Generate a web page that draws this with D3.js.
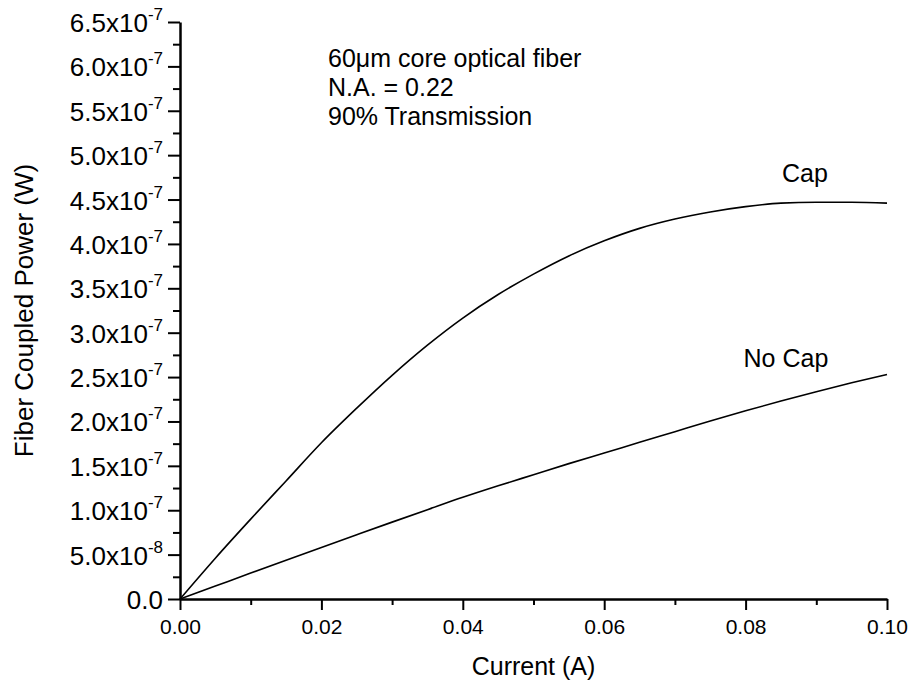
<!DOCTYPE html>
<html>
<head>
<meta charset="utf-8">
<script src="https://cdn.jsdelivr.net/npm/d3@7"></script>
<style>
  html, body { margin: 0; padding: 0; background: #fff; }
  svg { display: block; }
  text { font-family: "Liberation Sans", Arial, Helvetica, sans-serif; fill: #000; }
</style>
</head>
<body>
<svg id="chart" width="909" height="681"></svg>
<script>
// Drive current (A)
const current = [0, 0.005, 0.01, 0.015, 0.02, 0.025, 0.03, 0.035, 0.04, 0.045, 0.05,
                 0.055, 0.06, 0.065, 0.07, 0.075, 0.08, 0.085, 0.09, 0.095, 0.1];
// Fiber coupled power with cap (W)
const capPower = [0, 0.46e-7, 0.90e-7, 1.33e-7, 1.76e-7, 2.15e-7, 2.52e-7, 2.86e-7, 3.165e-7, 3.43e-7, 3.66e-7,
                  3.865e-7, 4.035e-7, 4.175e-7, 4.28e-7, 4.36e-7, 4.42e-7, 4.46e-7, 4.47e-7, 4.47e-7, 4.46e-7];
// Fiber coupled power without cap (W)
const noCapPower = [0, 0.146e-7, 0.292e-7, 0.437e-7, 0.581e-7, 0.724e-7, 0.866e-7, 1.006e-7, 1.145e-7, 1.275e-7, 1.40e-7,
                    1.525e-7, 1.645e-7, 1.765e-7, 1.885e-7, 2.005e-7, 2.12e-7, 2.23e-7, 2.335e-7, 2.435e-7, 2.53e-7];

const xTicks = [0, 0.02, 0.04, 0.06, 0.08, 0.10];
const xTickLabels = ["0.00", "0.02", "0.04", "0.06", "0.08", "0.10"];
const yTicks = [0, 0.5e-7, 1.0e-7, 1.5e-7, 2.0e-7, 2.5e-7, 3.0e-7, 3.5e-7, 4.0e-7, 4.5e-7, 5.0e-7, 5.5e-7, 6.0e-7, 6.5e-7];
const yTickMantissa = ["0.0", "5.0", "1.0", "1.5", "2.0", "2.5", "3.0", "3.5", "4.0", "4.5", "5.0", "5.5", "6.0", "6.5"];
const yTickExponent = [null, "-8", "-7", "-7", "-7", "-7", "-7", "-7", "-7", "-7", "-7", "-7", "-7", "-7"];

const notes = ["60\u03BCm core optical fiber", "N.A. = 0.22", "90% Transmission"];
const seriesLabels = ["Cap", "No Cap"];

const svg = d3.select("#chart");
const margin = { left: 180, right: 22, top: 22, bottom: 82 };
const W = 909, H = 681;

const x = d3.scaleLinear().domain([0, 0.10]).range([margin.left, W - margin.right]);
const y = d3.scaleLinear().domain([0, 6.5e-7]).range([H - margin.bottom, margin.top]);

// minor ticks halfway between the labelled ones
const xMinor = d3.range(0, 0.1001, 0.01).filter(v => !xTicks.some(t => Math.abs(t - v) < 1e-9));
const yMinor = d3.range(0, 6.51e-7, 0.25e-7).filter(v => !yTicks.some(t => Math.abs(t - v) < 1e-12));

const axisStroke = 2.5;

// X axis
const gx = svg.append("g").attr("transform", `translate(0,${y(0)})`);
gx.call(d3.axisBottom(x).tickValues(xTicks).tickSize(11).tickSizeOuter(0)
    .tickFormat((d, i) => xTickLabels[i]));
gx.append("g").call(d3.axisBottom(x).tickValues(xMinor).tickSize(6).tickFormat(""))
  .select(".domain").remove();
gx.selectAll("path.domain").attr("stroke-width", axisStroke);
gx.selectAll(".tick line").attr("stroke-width", 2);
gx.selectAll(".tick text").attr("font-size", 21).attr("dy", null).attr("y", 35);

// Y axis
const gy = svg.append("g").attr("transform", `translate(${x(0)},0)`);
gy.call(d3.axisLeft(y).tickValues(yTicks).tickSize(12).tickSizeOuter(0).tickFormat(""));
gy.append("g").call(d3.axisLeft(y).tickValues(yMinor).tickSize(7).tickFormat(""))
  .select(".domain").remove();
gy.selectAll("path.domain").attr("stroke-width", axisStroke);
gy.selectAll(".tick line").attr("stroke-width", 2);

// y tick labels with superscript exponents
const yLab = svg.append("g");
yTicks.forEach((v, i) => {
  const t = yLab.append("text")
    .attr("x", x(0) - 17)
    .attr("y", y(v) + 10)
    .attr("text-anchor", "end")
    .attr("font-size", 26);
  if (yTickExponent[i]) {
    t.append("tspan").text(yTickMantissa[i] + "x10");
    t.append("tspan").attr("font-size", 17).attr("dy", -12).text(yTickExponent[i]);
  } else {
    t.text(yTickMantissa[i]);
  }
});

// axis titles
svg.append("text")
  .attr("x", (x(0) + x(0.1)) / 2)
  .attr("y", 675)
  .attr("text-anchor", "middle")
  .attr("font-size", 25)
  .text("Current (A)");

svg.append("text")
  .attr("transform", `translate(33,${(y(0) + y(6.5e-7)) / 2}) rotate(-90)`)
  .attr("text-anchor", "middle")
  .attr("font-size", 26)
  .text("Fiber Coupled Power (W)");

// curves
const line = d3.line().curve(d3.curveMonotoneX);
const capPts = current.map((c, i) => [x(c), y(capPower[i])]);
const noCapPts = current.map((c, i) => [x(c), y(noCapPower[i])]);
svg.append("path").attr("d", line(capPts)).attr("fill", "none").attr("stroke", "#000").attr("stroke-width", 1.6);
svg.append("path").attr("d", line(noCapPts)).attr("fill", "none").attr("stroke", "#000").attr("stroke-width", 1.6);

// series labels
svg.append("text").attr("x", x(0.0884)).attr("y", y(4.46e-7) - 21)
  .attr("text-anchor", "middle").attr("font-size", 25).text(seriesLabels[0]);
svg.append("text").attr("x", x(0.0857)).attr("y", y(2.53e-7) - 7)
  .attr("text-anchor", "middle").attr("font-size", 25).text(seriesLabels[1]);

// annotation block
const note = svg.append("text").attr("font-size", 25);
notes.forEach((s, i) => {
  note.append("tspan").attr("x", 328).attr("y", 67 + i * 29).text(s);
});
</script>
</body>
</html>
